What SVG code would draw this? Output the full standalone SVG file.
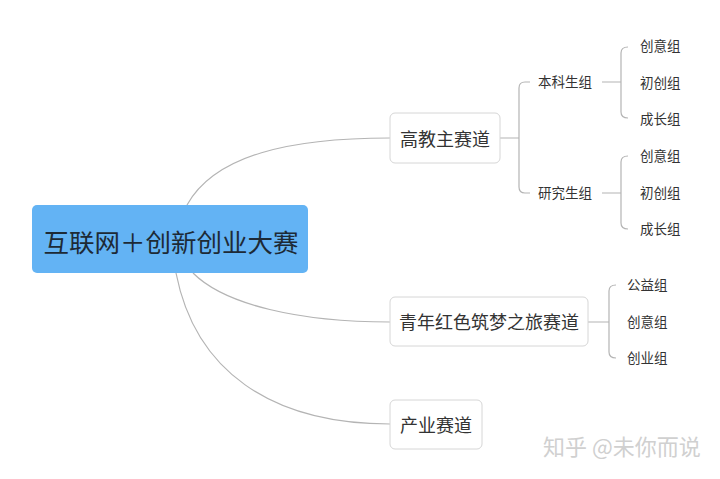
<svg xmlns="http://www.w3.org/2000/svg" width="720" height="479" viewBox="0 0 720 479">
<style>
.bg{fill:#ffffff}
.link{fill:none;stroke:#b4b4b4;stroke-width:1.2}
.box{fill:#ffffff;stroke:#d6d6d6;stroke-width:1}
.t{font-family:"Noto Sans CJK SC","Noto Sans",sans-serif;fill:#333333;dominant-baseline:central}
.main{font-size:18px;text-anchor:middle}
.leaf{font-size:13.5px}
.root{font-size:25.5px;text-anchor:middle;fill:#1d2a36}
.wm{font-family:"Noto Sans CJK SC",sans-serif;font-size:22px;fill:#d0d0d0}
</style>
<rect class="bg" width="720" height="479"/>
<g id="connectors">
<path class="link" d="M187,205 C215,155 290,138 390,138"/>
<path class="link" d="M193,273 C225,305 300,322 390,322"/>
<path class="link" d="M176,273 C195,370 270,424 390,424"/>
<path class="link" d="M500,138 H519 M530,82 H525 Q519,82 519,88 V187 Q519,193 525,193 H530"/>
<path class="link" d="M602,82 H621 M628,47 Q621,47 621,53 V112 Q621,118 628,118"/>
<path class="link" d="M602,193 H621 M628,156 Q621,156 621,162 V223 Q621,229 628,229"/>
<path class="link" d="M588,322 H609 M616,285 Q609,285 609,291 V352 Q609,358 616,358"/>
</g>
<g id="root">
<rect x="32" y="205" width="276" height="68" rx="5" fill="#63b3f4"/>
<text class="t root" x="171" y="240.5">互联网＋创新创业大赛</text>
</g>
<g id="n-gaojiao">
<rect class="box" x="390" y="113" width="110" height="50" rx="5"/>
<text class="t main" x="445" y="137.5">高教主赛道</text>
</g>
<g id="n-benke"><text class="t leaf" x="538" y="80.5">本科生组</text></g>
<g id="n-yanjiu"><text class="t leaf" x="538" y="191.5">研究生组</text></g>
<g id="n-bk1"><text class="t leaf" x="640" y="44.5">创意组</text></g>
<g id="n-bk2"><text class="t leaf" x="640" y="81.5">初创组</text></g>
<g id="n-bk3"><text class="t leaf" x="640" y="117.5">成长组</text></g>
<g id="n-yj1"><text class="t leaf" x="640" y="154.5">创意组</text></g>
<g id="n-yj2"><text class="t leaf" x="640" y="191.5">初创组</text></g>
<g id="n-yj3"><text class="t leaf" x="640" y="227.5">成长组</text></g>
<g id="n-qingnian">
<rect class="box" x="390" y="297" width="198" height="49" rx="5"/>
<text class="t main" x="489" y="320.5">青年红色筑梦之旅赛道</text>
</g>
<g id="n-qn1"><text class="t leaf" x="627" y="283.5">公益组</text></g>
<g id="n-qn2"><text class="t leaf" x="627" y="320.5">创意组</text></g>
<g id="n-qn3"><text class="t leaf" x="627" y="356.5">创业组</text></g>
<g id="n-chanye">
<rect class="box" x="390" y="400" width="92" height="49" rx="5"/>
<text class="t main" x="436" y="423.5">产业赛道</text>
</g>
<text class="wm" x="543" y="455">知乎 @未你而说</text>
</svg>
